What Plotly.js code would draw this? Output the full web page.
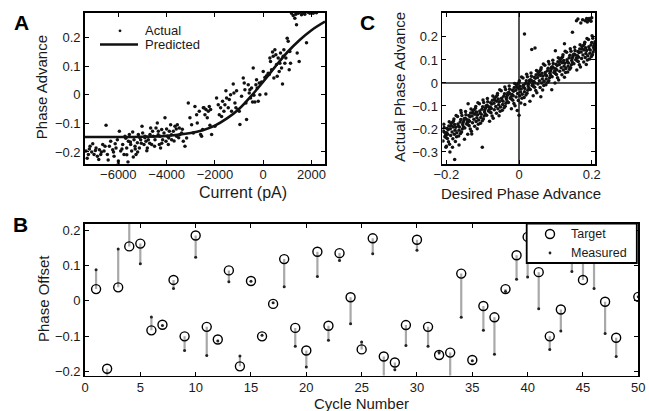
<!DOCTYPE html>
<html><head><meta charset="utf-8">
<script src="https://cdn.plot.ly/plotly-3.0.1.min.js"></script>
<style>html,body{margin:0;padding:0;background:#fff}#plot{width:649px;height:411px}</style>
</head><body><div id="plot"></div>
<script>
// ---- Panel A: actual phase advance vs injected current ----
const actualPoints = [
[-7336,-0.197],[-7239,-0.209],[-7170,-0.180],[-7101,-0.200],[-7005,-0.209],[-6922,-0.186],[-6867,-0.215],[-6784,-0.192],
[-6729,-0.209],[-6646,-0.174],[-6591,-0.197],[-6508,-0.107],[-6453,-0.209],[-6371,-0.180],[-6315,-0.163],[-6233,-0.192],
[-6177,-0.215],[-6095,-0.186],[-6040,-0.157],[-5998,-0.232],[-5957,-0.128],[-5902,-0.197],[-5819,-0.174],[-5764,-0.209],
[-5722,-0.145],[-5653,-0.186],[-5584,-0.163],[-5543,-0.139],[-5488,-0.174],[-5447,-0.197],[-5405,-0.130],[-5350,-0.157],
[-5309,-0.180],[-5267,-0.209],[-5212,-0.168],[-5171,-0.139],[-5129,-0.186],[-5074,-0.157],[-5019,-0.110],[-4991,-0.134],
[-4936,-0.174],[-4895,-0.145],[-4854,-0.163],[-4798,-0.186],[-4757,-0.157],[-4688,-0.139],[-4661,-0.116],[-4619,-0.174],
[-4550,-0.145],[-4481,-0.157],[-4440,-0.116],[-4385,-0.099],[-4343,-0.128],[-4302,-0.174],[-4274,-0.145],[-4205,-0.122],
[-4164,-0.157],[-4109,-0.134],[-4068,-0.081],[-4026,-0.163],[-3971,-0.145],[-3930,-0.174],[-3888,-0.128],[-3833,-0.105],
[-3792,-0.157],[-3723,-0.128],[-3654,-0.110],[-3585,-0.145],[-3557,-0.105],[-3475,-0.116],[-3447,-0.139],[-3378,-0.134],
[-3309,-0.163],[-3240,-0.180],[-3171,-0.151],[-3102,-0.029],[-3034,-0.081],[-2964,-0.105],[-2895,-0.134],[-2827,-0.041],
[-2757,-0.070],[-2730,-0.099],[-2647,-0.058],[-2592,-0.139],[-2509,-0.122],[-2454,-0.046],
[-7200,-0.190],[-6950,-0.195],[-6700,-0.200],[-6550,-0.180],[-6200,-0.200],[-5850,-0.190],[-5650,-0.210],[-5500,-0.165],
[-5300,-0.190],[-5200,-0.200],[-5050,-0.170],[-4900,-0.150],[-4700,-0.170],[-4500,-0.180],[-4350,-0.140],[-4200,-0.170],
[-4000,-0.120],[-3800,-0.140],[-3600,-0.120],[-3500,-0.150],[-5600,-0.235],[-6000,-0.240],
[-7290,-0.222],[-7060,-0.171],[-6810,-0.226],[-6420,-0.228],[-6130,-0.171],[-5690,-0.152],[-5380,-0.218],[-5130,-0.149],
[-4820,-0.196],[-4580,-0.128],[-4250,-0.186],[-3910,-0.151],[-3690,-0.162],[-3350,-0.121],
[-2550,-0.145],[-2481,-0.046],[-2412,-0.070],[-2371,-0.052],[-2316,-0.081],[-2274,-0.058],[-2233,-0.041],[-2178,-0.052],
[-2136,-0.139],[-2205,-0.107],[-1998,-0.110],[-1930,-0.012],[-1861,-0.035],[-1819,-0.070],[-1764,-0.046],[-1723,-0.076],
[-1681,-0.023],[-1626,-0.058],[-1585,-0.035],[-1543,0.014],[-1516,-0.012],[-1447,-0.046],[-1406,-0.017],[-1350,0.000],
[-1309,-0.058],[-1240,0.037],[-1212,0.006],[-1171,-0.029],[-1130,-0.046],[-1102,0.014],[-1033,-0.052],[-992,-0.058],
[-964,-0.104],[-895,-0.006],[-826,0.058],[-785,0.041],[-757,0.017],[-716,-0.029],[-689,-0.087],[-619,0.035],
[-578,0.006],[-551,0.017],[-523,-0.012],[-482,0.023],[-440,-0.026],[-413,0.093],[-385,-0.002],[-344,-0.026],
[-302,0.035],[-275,0.052],[-247,0.023],[-206,-0.023],[-164,0.041],[-137,0.000],[-68,0.044],[1,0.081],
[70,0.060],[111,0.002],[139,0.066],[208,0.075],[249,0.070],[277,0.128],[304,0.116],[346,0.087],
[387,0.149],[415,0.134],[442,0.058],[484,0.157],[525,0.139],[553,0.105],[580,0.064],[622,0.128],
[663,0.081],[691,0.110],[718,0.145],[760,0.093],[801,0.037],[829,0.134],[856,0.157],[897,0.110],
[939,0.128],[994,0.197],[1035,0.186],[1077,0.087],[1104,0.151],[1132,0.110],[1173,0.284],[1242,0.276],
[1311,0.267],[1353,0.281],[1380,0.244],[1408,0.145],[1449,0.284],[1490,0.116],[1518,0.288],[1587,0.279],
[1656,0.284],[1725,0.281],[1794,0.181],[1863,0.288],[1932,0.284],[2001,0.290],[2070,0.284],[2139,0.288],[2208,0.286]
];
const predictedCurrent = [-7380,-6000,-5000,-4000,-3000,-2500,-2000,-1500,-1000,-500,0,500,1000,1500,2000,2560];
const predictedPhase   = [-0.148,-0.148,-0.147,-0.144,-0.134,-0.124,-0.108,-0.083,-0.050,-0.005,0.045,0.098,0.148,0.190,0.225,0.255];

// ---- Panel B: target vs measured phase offset per cycle ----
const cycles = [1,2,3,4,5,6,7,8,9,10,11,12,13,14,15,16,17,18,19,20,21,22,23,24,25,26,27,28,29,30,31,32,33,34,35,36,37,38,39,40,41,42,43,44,45,46,47,48,49,50];
const targetOffset = [0.033,-0.193,0.038,0.154,0.162,-0.084,-0.068,0.059,-0.101,0.185,-0.074,-0.110,0.086,-0.186,0.056,-0.101,-0.009,0.118,-0.077,-0.141,
  0.139,-0.071,0.135,0.010,-0.138,0.177,-0.158,-0.175,-0.069,0.173,-0.074,-0.154,-0.147,0.077,-0.168,-0.015,-0.047,0.033,0.129,0.181,
  0.081,-0.101,-0.025,0.190,0.059,0.160,-0.003,-0.105,0.190,0.011];
const measuredOffset = [0.088,-0.225,0.147,0.250,0.105,-0.046,-0.070,0.035,-0.141,0.123,-0.155,-0.114,0.054,-0.157,0.055,-0.098,-0.006,0.040,-0.129,-0.188,
  0.069,-0.112,0.114,-0.065,-0.117,0.133,-0.235,-0.196,-0.127,0.143,-0.129,-0.147,-0.235,-0.047,-0.170,-0.084,-0.152,0.026,0.061,0.067,
  -0.023,-0.138,-0.086,0.083,0.140,0.035,-0.093,-0.158,0.150,0.011];
const legendB = ['Target', 'Measured'];

// ---- Panel C: actual vs desired phase advance ----
const cPoints = [
[-0.208,-0.209],[-0.197,-0.242],[-0.193,-0.187],[-0.202,-0.227],[-0.191,-0.266],[-0.206,-0.194],[-0.199,-0.217],[-0.209,-0.252],[-0.195,-0.203],
[-0.204,-0.234],[-0.192,-0.169],[-0.201,-0.279],[-0.196,-0.223],[-0.207,-0.180],[-0.198,-0.198],[-0.194,-0.256],[-0.205,-0.214],[-0.200,-0.238],
[-0.174,-0.193],[-0.183,-0.171],[-0.171,-0.216],[-0.188,-0.228],[-0.179,-0.157],[-0.176,-0.206],[-0.186,-0.186],[-0.173,-0.141],[-0.182,-0.243],
[-0.177,-0.181],[-0.189,-0.199],[-0.172,-0.234],[-0.184,-0.213],[-0.180,-0.165],[-0.175,-0.254],[-0.187,-0.176],[-0.178,-0.223],[-0.181,-0.191],
[-0.164,-0.192],[-0.152,-0.165],[-0.169,-0.146],[-0.158,-0.213],[-0.155,-0.181],[-0.166,-0.231],[-0.151,-0.156],[-0.162,-0.170],[-0.156,-0.200],
[-0.168,-0.178],[-0.159,-0.130],[-0.153,-0.190],[-0.165,-0.206],[-0.157,-0.141],[-0.161,-0.220],[-0.154,-0.173],[-0.167,-0.187],[-0.160,-0.159],
[-0.148,-0.153],[-0.137,-0.186],[-0.133,-0.131],[-0.142,-0.171],[-0.131,-0.210],[-0.146,-0.138],[-0.139,-0.161],[-0.149,-0.196],[-0.135,-0.147],
[-0.144,-0.178],[-0.132,-0.113],[-0.141,-0.223],[-0.136,-0.167],[-0.147,-0.124],[-0.138,-0.142],[-0.134,-0.200],[-0.145,-0.158],[-0.140,-0.182],
[-0.114,-0.138],[-0.123,-0.116],[-0.111,-0.161],[-0.128,-0.173],[-0.119,-0.102],[-0.116,-0.151],[-0.126,-0.131],[-0.113,-0.086],[-0.122,-0.188],
[-0.117,-0.126],[-0.129,-0.144],[-0.112,-0.179],[-0.124,-0.158],[-0.120,-0.110],[-0.115,-0.199],[-0.127,-0.121],[-0.118,-0.168],[-0.121,-0.136],
[-0.104,-0.136],[-0.092,-0.109],[-0.109,-0.090],[-0.098,-0.157],[-0.095,-0.125],[-0.106,-0.175],[-0.091,-0.100],[-0.102,-0.114],[-0.096,-0.144],
[-0.108,-0.122],[-0.099,-0.074],[-0.093,-0.134],[-0.105,-0.150],[-0.097,-0.085],[-0.101,-0.164],[-0.094,-0.117],[-0.107,-0.131],[-0.100,-0.103],
[-0.088,-0.097],[-0.077,-0.130],[-0.073,-0.075],[-0.082,-0.115],[-0.071,-0.154],[-0.086,-0.082],[-0.079,-0.105],[-0.089,-0.140],[-0.075,-0.091],
[-0.084,-0.122],[-0.072,-0.057],[-0.081,-0.167],[-0.076,-0.111],[-0.087,-0.068],[-0.078,-0.086],[-0.074,-0.144],[-0.085,-0.102],[-0.080,-0.126],
[-0.054,-0.082],[-0.063,-0.060],[-0.051,-0.105],[-0.068,-0.117],[-0.059,-0.046],[-0.056,-0.095],[-0.066,-0.075],[-0.053,-0.030],[-0.062,-0.132],
[-0.057,-0.070],[-0.069,-0.088],[-0.052,-0.123],[-0.064,-0.102],[-0.060,-0.054],[-0.055,-0.143],[-0.067,-0.065],[-0.058,-0.112],[-0.061,-0.080],
[-0.044,-0.080],[-0.032,-0.053],[-0.049,-0.034],[-0.038,-0.101],[-0.035,-0.069],[-0.046,-0.119],[-0.031,-0.044],[-0.042,-0.058],[-0.036,-0.088],
[-0.048,-0.066],[-0.039,-0.018],[-0.033,-0.078],[-0.045,-0.094],[-0.037,-0.029],[-0.041,-0.108],[-0.034,-0.061],[-0.047,-0.075],[-0.040,-0.047],
[-0.028,-0.042],[-0.017,-0.075],[-0.013,-0.020],[-0.022,-0.060],[-0.011,-0.099],[-0.026,-0.027],[-0.019,-0.050],[-0.029,-0.085],[-0.015,-0.036],
[-0.024,-0.067],[-0.012,-0.002],[-0.021,-0.112],[-0.016,-0.056],[-0.027,-0.013],[-0.018,-0.031],[-0.014,-0.089],[-0.025,-0.047],[-0.020,-0.071],
[0.006,-0.026],[-0.003,-0.004],[0.009,-0.049],[-0.008,-0.061],[0.001,0.010],[0.004,-0.039],[-0.006,-0.019],[0.007,0.026],[-0.002,-0.076],
[0.003,-0.014],[-0.009,-0.032],[0.008,-0.067],[-0.004,-0.046],[0.000,0.002],[0.005,-0.087],[-0.007,-0.009],[0.002,-0.056],[-0.001,-0.024],
[0.016,-0.024],[0.028,0.003],[0.011,0.022],[0.022,-0.045],[0.025,-0.013],[0.014,-0.063],[0.029,0.012],[0.018,-0.002],[0.024,-0.032],
[0.012,-0.010],[0.021,0.038],[0.027,-0.022],[0.015,-0.038],[0.023,0.027],[0.019,-0.052],[0.026,-0.005],[0.013,-0.019],[0.020,0.009],
[0.032,0.014],[0.043,-0.019],[0.047,0.036],[0.038,-0.004],[0.049,-0.043],[0.034,0.029],[0.041,0.006],[0.031,-0.029],[0.045,0.020],
[0.036,-0.011],[0.048,0.054],[0.039,-0.056],[0.044,0.000],[0.033,0.043],[0.042,0.025],[0.046,-0.033],[0.035,0.009],[0.040,-0.015],
[0.066,0.030],[0.057,0.052],[0.069,0.007],[0.052,-0.005],[0.061,0.066],[0.064,0.017],[0.054,0.037],[0.067,0.082],[0.058,-0.020],
[0.063,0.042],[0.051,0.024],[0.068,-0.011],[0.056,0.010],[0.060,0.058],[0.065,-0.031],[0.053,0.047],[0.062,0.000],[0.059,0.032],
[0.076,0.031],[0.088,0.058],[0.071,0.077],[0.082,0.010],[0.085,0.042],[0.074,-0.008],[0.089,0.067],[0.078,0.053],[0.084,0.023],
[0.072,0.045],[0.081,0.093],[0.087,0.033],[0.075,0.017],[0.083,0.082],[0.079,0.003],[0.086,0.050],[0.073,0.036],[0.080,0.064],
[0.092,0.070],[0.103,0.037],[0.107,0.092],[0.098,0.052],[0.109,0.013],[0.094,0.085],[0.101,0.062],[0.091,0.027],[0.105,0.076],
[0.096,0.045],[0.108,0.110],[0.099,0.000],[0.104,0.056],[0.093,0.099],[0.102,0.081],[0.106,0.023],[0.095,0.065],[0.100,0.041],
[0.126,0.086],[0.117,0.108],[0.129,0.063],[0.112,0.051],[0.121,0.122],[0.124,0.073],[0.114,0.093],[0.127,0.138],[0.118,0.036],
[0.123,0.098],[0.111,0.080],[0.128,0.045],[0.116,0.066],[0.120,0.114],[0.125,0.025],[0.113,0.103],[0.122,0.056],[0.119,0.088],
[0.136,0.087],[0.148,0.114],[0.131,0.133],[0.142,0.066],[0.145,0.098],[0.134,0.048],[0.149,0.123],[0.138,0.109],[0.144,0.079],
[0.132,0.101],[0.141,0.149],[0.147,0.089],[0.135,0.073],[0.143,0.138],[0.139,0.059],[0.146,0.106],[0.133,0.092],[0.140,0.120],
[0.152,0.126],[0.163,0.093],[0.167,0.148],[0.158,0.108],[0.169,0.069],[0.154,0.141],[0.161,0.118],[0.151,0.083],[0.165,0.132],
[0.156,0.101],[0.168,0.166],[0.159,0.056],[0.164,0.112],[0.153,0.155],[0.162,0.137],[0.166,0.079],[0.155,0.121],[0.160,0.097],
[0.186,0.141],[0.177,0.163],[0.189,0.118],[0.172,0.106],[0.181,0.177],[0.184,0.128],[0.174,0.148],[0.187,0.193],[0.178,0.091],
[0.183,0.153],[0.171,0.135],[0.188,0.100],[0.176,0.121],[0.180,0.169],[0.185,0.080],[0.173,0.158],[0.182,0.111],[0.179,0.143],
[0.196,0.143],[0.208,0.170],[0.191,0.189],[0.202,0.122],[0.205,0.154],[0.194,0.104],[0.209,0.179],[0.198,0.165],[0.204,0.135],
[0.192,0.157],[0.201,0.205],[0.207,0.145],[0.195,0.129],[0.203,0.194],[0.199,0.115],[0.206,0.162],[0.193,0.148],[0.200,0.176],
[-0.177,-0.333],[-0.101,-0.280],[-0.200,-0.275],[-0.190,-0.300],[-0.183,-0.280],[-0.165,-0.270],[-0.150,-0.245],[-0.130,-0.222],
[-0.140,-0.090],[-0.160,-0.120],[-0.005,-0.120],[0.000,-0.140],[0.016,-0.094],[0.030,-0.080],[0.060,-0.060],[0.090,-0.030],
[0.015,0.213],[0.035,0.145],[0.044,0.152],[0.147,0.220],[0.125,0.170],[0.100,0.140],
[0.158,0.270],[0.162,0.278],[0.170,0.260],[0.175,0.275],[0.182,0.270],[0.186,0.280],[0.190,0.275],[0.193,0.280],[0.196,0.272],
[0.188,0.265],[0.200,0.283],[0.198,0.268]
];

const W = 649, H = 411;
const dx = (a, b) => [a / W, b / W];
const dy = (top, bottom) => [1 - bottom / H, 1 - top / H];
const px = v => v / W, py = v => 1 - v / H;
const FONT = 'Liberation Sans, Arial, sans-serif';
const INK = '#1a1a1a';

function axisBase(extra) {
  return Object.assign({
    showline: true, mirror: 'ticks', linecolor: '#000', linewidth: 1.8,
    ticks: 'inside', ticklen: 4, tickwidth: 1, tickcolor: '#000',
    showgrid: false, zeroline: false, fixedrange: true,
    tickfont: {family: FONT, size: 13, color: INK}
  }, extra);
}

// stems for panel B built from target/measured arrays
const stemX = [], stemY = [];
cycles.forEach((c, i) => { stemX.push(c, c, null); stemY.push(targetOffset[i], measuredOffset[i], null); });

const traces = [
  {x: actualPoints.map(p => p[0]), y: actualPoints.map(p => p[1]), xaxis: 'x', yaxis: 'y', type: 'scatter', mode: 'markers',
   name: 'Actual', marker: {color: '#111', size: 3.5}},
  {x: predictedCurrent, y: predictedPhase, xaxis: 'x', yaxis: 'y', type: 'scatter', mode: 'lines', line: {shape: 'spline', color: '#111', width: 2.6},
   name: 'Predicted'},
  {x: cPoints.map(p => p[0]), y: cPoints.map(p => p[1]), xaxis: 'x2', yaxis: 'y2', type: 'scatter', mode: 'markers',
   marker: {color: '#111', size: 3.5}},
  {x: stemX, y: stemY, xaxis: 'x3', yaxis: 'y3', type: 'scatter', mode: 'lines', line: {color: '#a9a9a9', width: 2.2}, connectgaps: false},
  {x: cycles, y: targetOffset, xaxis: 'x3', yaxis: 'y3', type: 'scatter', mode: 'markers', name: legendB[0],
   marker: {symbol: 'circle-open', size: 9, color: '#000', line: {width: 1.4, color: '#000'}}},
  {x: cycles, y: measuredOffset, xaxis: 'x3', yaxis: 'y3', type: 'scatter', mode: 'markers', name: legendB[1],
   marker: {size: 3, color: '#222'}}
];

const ann = (text, x, y, opts) => Object.assign({text, x: px(x), y: py(y), xref: 'paper', yref: 'paper',
  showarrow: false, xanchor: 'center', yanchor: 'middle', font: {family: FONT, size: 15, color: INK}}, opts || {});
const keyFont = {family: FONT, size: 12.5, color: INK};

const layout = {
  width: W, height: H, margin: {l: 0, r: 0, t: 0, b: 0}, paper_bgcolor: '#fff', plot_bgcolor: '#fff',
  font: {family: FONT, color: INK}, showlegend: false,
  xaxis: axisBase({domain: dx(85, 325), anchor: 'y', range: [-7380, 2560], tickvals: [-6000, -4000, -2000, 0, 2000], ticklabelstandoff: -2}),
  yaxis: axisBase({domain: dy(13, 163.7), anchor: 'x', range: [-0.241, 0.285], tickvals: [-0.2, -0.1, 0, 0.1, 0.2]}),
  xaxis2: axisBase({domain: dx(442.3, 595), anchor: 'y2', range: [-0.211, 0.209], tickvals: [-0.2, 0, 0.2], ticklabelstandoff: -2,
    zeroline: true, zerolinecolor: '#555', zerolinewidth: 1.5}),
  yaxis2: axisBase({domain: dy(13, 163.7), anchor: 'x2', range: [-0.351, 0.304], tickvals: [-0.3, -0.2, -0.1, 0, 0.1, 0.2],
    zeroline: true, zerolinecolor: '#555', zerolinewidth: 1.5}),
  xaxis3: axisBase({domain: dx(85, 638.3), anchor: 'y3', range: [0, 50], tickvals: [0, 5, 10, 15, 20, 25, 30, 35, 40, 45, 50], ticklabelstandoff: -1}),
  yaxis3: axisBase({domain: dy(223.5, 375.5), anchor: 'x3', range: [-0.212, 0.219], tickvals: [-0.2, -0.1, 0, 0.1, 0.2]}),
  shapes: [
    // panel A key
    {type: 'circle', xref: 'paper', yref: 'paper', x0: px(118.6), x1: px(121.4), y0: py(29.4), y1: py(32.2), fillcolor: '#111', line: {width: 0}},
    {type: 'line', xref: 'paper', yref: 'paper', x0: px(100), x1: px(138), y0: py(44.5), y1: py(44.5), line: {color: '#111', width: 2.6}},
    // panel B key box (covers data like the original legend)
    {type: 'rect', xref: 'paper', yref: 'paper', layer: 'above', x0: px(526.7), x1: px(636.8), y0: py(223.5), y1: py(263),
     fillcolor: '#fff', line: {color: '#000', width: 1.8}},
    {type: 'circle', xref: 'paper', yref: 'paper', layer: 'above', x0: px(545.5), x1: px(554.5), y0: py(229.5), y1: py(238.5),
     fillcolor: 'rgba(0,0,0,0)', line: {color: '#000', width: 1.4}},
    {type: 'circle', xref: 'paper', yref: 'paper', layer: 'above', x0: px(548.6), x1: px(551.4), y0: py(251.6), y1: py(254.4),
     fillcolor: '#222', line: {width: 0}}
  ],
  annotations: [
    ann('A', 21.5, 22.5, {font: {family: FONT, size: 21, color: '#000', weight: 'bold'}}),
    ann('C', 367.5, 22.5, {font: {family: FONT, size: 21, color: '#000', weight: 'bold'}}),
    ann('B', 20.5, 224.5, {font: {family: FONT, size: 21, color: '#000', weight: 'bold'}}),
    ann('Actual', 142.5, 30.5, {xanchor: 'left', font: {family: FONT, size: 13, color: INK}}),
    ann('Predicted', 142.5, 45, {xanchor: 'left', font: {family: FONT, size: 13, color: INK}}),
    ann(legendB[0], 569, 234, {xanchor: 'left', font: keyFont}),
    ann(legendB[1], 569, 253, {xanchor: 'left', font: keyFont}),
    ann('Phase Advance', 41.7, 87.5, {textangle: -90}),
    ann('Current (pA)', 242.5, 192, {font: {family: FONT, size: 16, color: INK}}),
    ann('Actual Phase Advance', 399.5, 87.5, {textangle: -90}),
    ann('Desired Phase Advance', 521, 193),
    ann('Phase Offset', 43, 299, {textangle: -90}),
    ann('Cycle Number', 361.5, 403)
  ]
};

Plotly.newPlot('plot', traces, layout, {staticPlot: true, displayModeBar: false});
</script>
</body></html>
